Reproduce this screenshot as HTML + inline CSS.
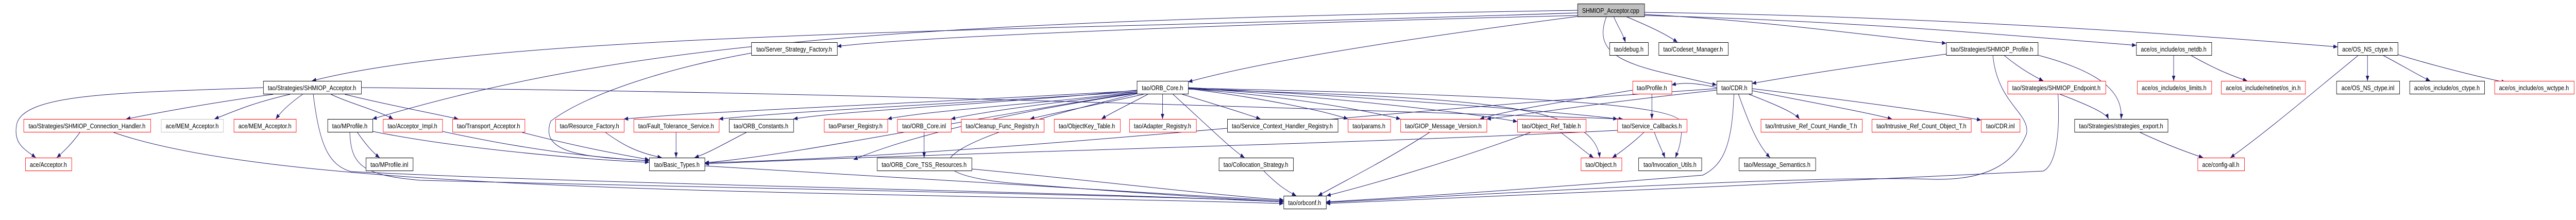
<!DOCTYPE html>
<html><head><meta charset="utf-8">
<style>
html,body{margin:0;padding:0;background:#fff;width:100%;height:100%;overflow:hidden;}
svg{display:block;width:100vw;height:100vh;}
text{font-family:"Liberation Sans",sans-serif;font-size:13px;fill:#000;}
.e{fill:none;stroke:#191970;stroke-width:1;}
</style></head>
<body>
<svg viewBox="0 0 6127 427" preserveAspectRatio="none" xmlns="http://www.w3.org/2000/svg">
<defs>
<marker id="a" viewBox="0 0 10 8" refX="10" refY="4" markerWidth="10" markerHeight="8" markerUnits="userSpaceOnUse" orient="auto">
<path d="M0,0 L10,4 L0,8 z" fill="#191970"/>
</marker>
</defs>
<g id="edges" class="e">
<path d="M3752,25 C2500,60 1200,60 742,157" marker-end="url(#a)"/>
<path d="M3752,30 C3000,45 2200,70 1991,90" marker-end="url(#a)"/>
<path d="M3752,32 C3300,80 3000,120 2826,159" marker-end="url(#a)"/>
<path d="M3838,32 C3850,55 3860,65 3866,82" marker-end="url(#a)"/>
<path d="M3867,32 C3920,50 3960,65 3990,82" marker-end="url(#a)"/>
<path d="M3821,32 C3780,120 3900,130 4083,165" marker-end="url(#a)"/>
<path d="M3911,28 C4200,40 4450,70 4629,84" marker-end="url(#a)"/>
<path d="M3911,30 C4400,40 4800,70 5081,88" marker-end="url(#a)"/>
<path d="M3911,24 C4500,30 5100,60 5560,91" marker-end="url(#a)"/>
<path d="M3752,20 C2200,40 1500,80 886,231" marker-end="url(#a)"/>
<path d="M626,170 C300,180 60,180 40,240 C30,280 60,290 85,306" marker-end="url(#a)"/>
<path d="M650,183 C500,200 400,215 300,231" marker-end="url(#a)"/>
<path d="M690,183 C600,200 560,215 510,231" marker-end="url(#a)"/>
<path d="M720,183 C690,200 670,215 656,231" marker-end="url(#a)"/>
<path d="M787,183 C830,200 900,215 935,231" marker-end="url(#a)"/>
<path d="M820,183 C900,200 1030,220 1090,231" marker-end="url(#a)"/>
<path d="M745,183 C760,280 780,320 835,333 C1500,360 2500,370 3053,392" marker-end="url(#a)"/>
<path d="M859,170 C1500,175 2200,185 3860,231" marker-end="url(#a)"/>
<path d="M190,257 C170,280 150,295 135,306" marker-end="url(#a)"/>
<path d="M270,257 C700,380 2000,370 3053,395" marker-end="url(#a)"/>
<path d="M850,257 C870,280 885,295 903,306" marker-end="url(#a)"/>
<path d="M886,255 C1100,290 1400,310 1544,315" marker-end="url(#a)"/>
<path d="M832,257 C835,320 860,340 1000,350 C2000,370 2800,380 3053,392" marker-end="url(#a)"/>
<path d="M1052,255 C1250,290 1400,305 1544,312" marker-end="url(#a)"/>
<path d="M1242,257 C1400,290 1480,300 1544,310" marker-end="url(#a)"/>
<path d="M1440,257 C1480,280 1510,295 1574,306" marker-end="url(#a)"/>
<path d="M1608,257 L1608,306" marker-end="url(#a)"/>
<path d="M1775,257 C1720,280 1690,295 1652,306" marker-end="url(#a)"/>
<path d="M1787,103 C1600,130 1400,180 1310,235 C1280,300 1400,305 1544,312" marker-end="url(#a)"/>
<path d="M1676,322 C2000,340 2700,370 3053,390" marker-end="url(#a)"/>
<path d="M2704,176 C2200,200 1700,215 1484,231" marker-end="url(#a)"/>
<path d="M2704,178 C2300,200 1900,215 1710,231" marker-end="url(#a)"/>
<path d="M2704,175 C2400,200 2000,215 1887,231" marker-end="url(#a)"/>
<path d="M2704,178 C2500,200 2200,215 2111,231" marker-end="url(#a)"/>
<path d="M2704,180 C2500,200 2350,215 2262,231" marker-end="url(#a)"/>
<path d="M2720,183 C2600,205 2500,220 2450,231" marker-end="url(#a)"/>
<path d="M2730,183 C2680,205 2640,220 2620,231" marker-end="url(#a)"/>
<path d="M2765,183 L2765,231" marker-end="url(#a)"/>
<path d="M2812,183 C2900,205 2960,220 2998,231" marker-end="url(#a)"/>
<path d="M2826,172 C3000,190 3150,215 3206,231" marker-end="url(#a)"/>
<path d="M2826,172 C3100,190 3250,215 3331,231" marker-end="url(#a)"/>
<path d="M2826,171 C3200,190 3500,220 3609,236" marker-end="url(#a)"/>
<path d="M2826,170 C3300,190 3750,220 3847,231" marker-end="url(#a)"/>
<path d="M2826,173 C3500,190 3790,200 3805,306" marker-end="url(#a)"/>
<path d="M2826,171 C3600,185 4000,200 4000,240 C4000,280 3990,295 3985,306" marker-end="url(#a)"/>
<path d="M2790,183 C2880,250 2930,290 2960,306" marker-end="url(#a)"/>
<path d="M2704,181 C2300,230 2100,285 2030,310" marker-end="url(#a)"/>
<path d="M2704,180 C2300,230 1900,300 1676,316" marker-end="url(#a)"/>
<path d="M2704,182 C2300,260 2100,330 2400,355 C2700,375 2900,385 3053,392" marker-end="url(#a)"/>
<path d="M2198,257 L2198,306" marker-end="url(#a)"/>
<path d="M2311,328 C2600,350 2900,380 3053,388" marker-end="url(#a)"/>
<path d="M3005,331 C3040,360 3060,370 3083,380" marker-end="url(#a)"/>
<path d="M3400,257 C3300,310 3200,350 3135,380" marker-end="url(#a)"/>
<path d="M3640,257 C3500,300 3300,350 3155,380" marker-end="url(#a)"/>
<path d="M3712,257 C3750,280 3770,295 3790,306" marker-end="url(#a)"/>
<path d="M3910,257 C3880,280 3855,295 3835,306" marker-end="url(#a)"/>
<path d="M3935,257 C3945,280 3955,295 3960,306" marker-end="url(#a)"/>
<path d="M3847,253 C3200,280 2500,290 1676,318" marker-end="url(#a)"/>
<path d="M3929,183 L3929,231" marker-end="url(#a)"/>
<path d="M3883,175 C3700,200 3580,215 3520,231" marker-end="url(#a)"/>
<path d="M4083,175 C3800,200 3650,220 3536,231" marker-end="url(#a)"/>
<path d="M4083,172 C3200,220 2400,300 1676,316" marker-end="url(#a)"/>
<path d="M4160,183 C4230,205 4270,220 4280,231" marker-end="url(#a)"/>
<path d="M4167,176 C4350,205 4450,220 4500,231" marker-end="url(#a)"/>
<path d="M4167,172 C4450,200 4620,220 4712,233" marker-end="url(#a)"/>
<path d="M4135,183 C4160,240 4180,280 4210,306" marker-end="url(#a)"/>
<path d="M4124,183 C4120,280 4100,320 4050,340 C3600,370 3300,385 3154,392" marker-end="url(#a)"/>
<path d="M4083,170 C4030,160 4000,160 3976,165" marker-end="url(#a)"/>
<path d="M4629,105 C4400,130 4250,150 4167,162" marker-end="url(#a)"/>
<path d="M4766,107 C4800,130 4830,145 4860,157" marker-end="url(#a)"/>
<path d="M4847,107 C5000,140 5050,180 5045,231" marker-end="url(#a)"/>
<path d="M4740,107 C4750,200 4830,220 4820,260 C4790,320 4720,350 4600,348 C4300,340 3700,370 3154,393" marker-end="url(#a)"/>
<path d="M4900,183 C4970,205 5010,220 5015,231" marker-end="url(#a)"/>
<path d="M4895,183 C4900,260 4890,320 4860,332 C4400,350 3500,385 3154,395" marker-end="url(#a)"/>
<path d="M5090,257 C5150,280 5200,295 5240,306" marker-end="url(#a)"/>
<path d="M5170,107 L5170,157" marker-end="url(#a)"/>
<path d="M5210,107 C5260,130 5300,145 5345,157" marker-end="url(#a)"/>
<path d="M5610,107 C5500,180 5400,250 5305,306" marker-end="url(#a)"/>
<path d="M5631,107 L5631,157" marker-end="url(#a)"/>
<path d="M5667,107 C5720,130 5750,145 5780,157" marker-end="url(#a)"/>
<path d="M5703,106 C5800,130 5900,150 5960,160" marker-end="url(#a)"/>
</g>
<g id="nodes" stroke-width="1">
<rect x="3752.5" y="7.5" width="159" height="25" fill="#bfbfbf" stroke="#000"/>
<text x="3831" y="25" text-anchor="middle" textLength="136" lengthAdjust="spacingAndGlyphs">SHMIOP_Acceptor.cpp</text>
<rect x="1787.5" y="82.5" width="204" height="25" fill="#fff" stroke="#000"/>
<text x="1889" y="100" text-anchor="middle" textLength="180" lengthAdjust="spacingAndGlyphs">tao/Server_Strategy_Factory.h</text>
<rect x="3828.5" y="82.5" width="92" height="25" fill="#fff" stroke="#000"/>
<text x="3874" y="100" text-anchor="middle" textLength="70" lengthAdjust="spacingAndGlyphs">tao/debug.h</text>
<rect x="3945.5" y="82.5" width="165" height="25" fill="#fff" stroke="#000"/>
<text x="4027" y="100" text-anchor="middle" textLength="142" lengthAdjust="spacingAndGlyphs">tao/Codeset_Manager.h</text>
<rect x="4629.5" y="82.5" width="218" height="25" fill="#fff" stroke="#000"/>
<text x="4738" y="100" text-anchor="middle" textLength="196" lengthAdjust="spacingAndGlyphs">tao/Strategies/SHMIOP_Profile.h</text>
<rect x="5081.5" y="82.5" width="179" height="25" fill="#fff" stroke="#000"/>
<text x="5170" y="100" text-anchor="middle" textLength="156" lengthAdjust="spacingAndGlyphs">ace/os_include/os_netdb.h</text>
<rect x="5560.5" y="82.5" width="143" height="25" fill="#fff" stroke="#000"/>
<text x="5631" y="100" text-anchor="middle" textLength="120" lengthAdjust="spacingAndGlyphs">ace/OS_NS_ctype.h</text>
<rect x="626.5" y="157.5" width="233" height="25" fill="#fff" stroke="#000"/>
<text x="742" y="175" text-anchor="middle" textLength="210" lengthAdjust="spacingAndGlyphs">tao/Strategies/SHMIOP_Acceptor.h</text>
<rect x="2704.5" y="157.5" width="122" height="25" fill="#fff" stroke="#000"/>
<text x="2765" y="175" text-anchor="middle" textLength="98" lengthAdjust="spacingAndGlyphs">tao/ORB_Core.h</text>
<rect x="3883.5" y="157.5" width="93" height="25" fill="#fff" stroke="#f00"/>
<text x="3929" y="175" text-anchor="middle" textLength="72" lengthAdjust="spacingAndGlyphs">tao/Profile.h</text>
<rect x="4083.5" y="157.5" width="84" height="25" fill="#fff" stroke="#000"/>
<text x="4125" y="175" text-anchor="middle" textLength="62" lengthAdjust="spacingAndGlyphs">tao/CDR.h</text>
<rect x="4775.5" y="157.5" width="233" height="25" fill="#fff" stroke="#f00"/>
<text x="4891" y="175" text-anchor="middle" textLength="210" lengthAdjust="spacingAndGlyphs">tao/Strategies/SHMIOP_Endpoint.h</text>
<rect x="5083.5" y="157.5" width="177" height="25" fill="#fff" stroke="#f00"/>
<text x="5171" y="175" text-anchor="middle" textLength="154" lengthAdjust="spacingAndGlyphs">ace/os_include/os_limits.h</text>
<rect x="5283.5" y="157.5" width="200" height="25" fill="#fff" stroke="#f00"/>
<text x="5383" y="175" text-anchor="middle" textLength="178" lengthAdjust="spacingAndGlyphs">ace/os_include/netinet/os_in.h</text>
<rect x="5557.5" y="157.5" width="150" height="25" fill="#fff" stroke="#000"/>
<text x="5632" y="175" text-anchor="middle" textLength="126" lengthAdjust="spacingAndGlyphs">ace/OS_NS_ctype.inl</text>
<rect x="5731.5" y="157.5" width="178" height="25" fill="#fff" stroke="#000"/>
<text x="5820" y="175" text-anchor="middle" textLength="156" lengthAdjust="spacingAndGlyphs">ace/os_include/os_ctype.h</text>
<rect x="5933.5" y="157.5" width="189" height="25" fill="#fff" stroke="#f00"/>
<text x="6027" y="175" text-anchor="middle" textLength="166" lengthAdjust="spacingAndGlyphs">ace/os_include/os_wctype.h</text>
<rect x="56.5" y="231.5" width="302" height="25" fill="#fff" stroke="#f00"/>
<text x="207" y="249" text-anchor="middle" textLength="278" lengthAdjust="spacingAndGlyphs">tao/Strategies/SHMIOP_Connection_Handler.h</text>
<rect x="383.5" y="231.5" width="148" height="25" fill="#fff" stroke="#bfbfbf"/>
<text x="457" y="249" text-anchor="middle" textLength="126" lengthAdjust="spacingAndGlyphs">ace/MEM_Acceptor.h</text>
<rect x="556.5" y="231.5" width="148" height="25" fill="#fff" stroke="#f00"/>
<text x="630" y="249" text-anchor="middle" textLength="126" lengthAdjust="spacingAndGlyphs">ace/MEM_Acceptor.h</text>
<rect x="779.5" y="231.5" width="107" height="25" fill="#fff" stroke="#000"/>
<text x="832" y="249" text-anchor="middle" textLength="84" lengthAdjust="spacingAndGlyphs">tao/MProfile.h</text>
<rect x="911.5" y="231.5" width="141" height="25" fill="#fff" stroke="#f00"/>
<text x="981" y="249" text-anchor="middle" textLength="118" lengthAdjust="spacingAndGlyphs">tao/Acceptor_Impl.h</text>
<rect x="1076.5" y="231.5" width="172" height="25" fill="#fff" stroke="#f00"/>
<text x="1162" y="249" text-anchor="middle" textLength="150" lengthAdjust="spacingAndGlyphs">tao/Transport_Acceptor.h</text>
<rect x="1321.5" y="231.5" width="163" height="25" fill="#fff" stroke="#f00"/>
<text x="1402" y="249" text-anchor="middle" textLength="141" lengthAdjust="spacingAndGlyphs">tao/Resource_Factory.h</text>
<rect x="1507.5" y="231.5" width="203" height="25" fill="#fff" stroke="#f00"/>
<text x="1608" y="249" text-anchor="middle" textLength="180" lengthAdjust="spacingAndGlyphs">tao/Fault_Tolerance_Service.h</text>
<rect x="1734.5" y="231.5" width="153" height="25" fill="#fff" stroke="#000"/>
<text x="1810" y="249" text-anchor="middle" textLength="130" lengthAdjust="spacingAndGlyphs">tao/ORB_Constants.h</text>
<rect x="1960.5" y="231.5" width="151" height="25" fill="#fff" stroke="#f00"/>
<text x="2035" y="249" text-anchor="middle" textLength="128" lengthAdjust="spacingAndGlyphs">tao/Parser_Registry.h</text>
<rect x="2134.5" y="231.5" width="128" height="25" fill="#fff" stroke="#f00"/>
<text x="2198" y="249" text-anchor="middle" textLength="104" lengthAdjust="spacingAndGlyphs">tao/ORB_Core.inl</text>
<rect x="2286.5" y="231.5" width="197" height="25" fill="#fff" stroke="#f00"/>
<text x="2384" y="249" text-anchor="middle" textLength="174" lengthAdjust="spacingAndGlyphs">tao/Cleanup_Func_Registry.h</text>
<rect x="2507.5" y="231.5" width="157" height="25" fill="#fff" stroke="#f00"/>
<text x="2585" y="249" text-anchor="middle" textLength="134" lengthAdjust="spacingAndGlyphs">tao/ObjectKey_Table.h</text>
<rect x="2686.5" y="231.5" width="159" height="25" fill="#fff" stroke="#f00"/>
<text x="2765" y="249" text-anchor="middle" textLength="136" lengthAdjust="spacingAndGlyphs">tao/Adapter_Registry.h</text>
<rect x="2919.5" y="231.5" width="263" height="25" fill="#fff" stroke="#000"/>
<text x="3050" y="249" text-anchor="middle" textLength="240" lengthAdjust="spacingAndGlyphs">tao/Service_Context_Handler_Registry.h</text>
<rect x="3206.5" y="231.5" width="101" height="25" fill="#fff" stroke="#f00"/>
<text x="3256" y="249" text-anchor="middle" textLength="78" lengthAdjust="spacingAndGlyphs">tao/params.h</text>
<rect x="3331.5" y="231.5" width="205" height="25" fill="#fff" stroke="#f00"/>
<text x="3433" y="249" text-anchor="middle" textLength="182" lengthAdjust="spacingAndGlyphs">tao/GIOP_Message_Version.h</text>
<rect x="3609.5" y="231.5" width="163" height="25" fill="#fff" stroke="#f00"/>
<text x="3690" y="249" text-anchor="middle" textLength="140" lengthAdjust="spacingAndGlyphs">tao/Object_Ref_Table.h</text>
<rect x="3847.5" y="231.5" width="165" height="25" fill="#fff" stroke="#f00"/>
<text x="3929" y="249" text-anchor="middle" textLength="142" lengthAdjust="spacingAndGlyphs">tao/Service_Callbacks.h</text>
<rect x="4188.5" y="231.5" width="241" height="25" fill="#fff" stroke="#f00"/>
<text x="4308" y="249" text-anchor="middle" textLength="218" lengthAdjust="spacingAndGlyphs">tao/Intrusive_Ref_Count_Handle_T.h</text>
<rect x="4452.5" y="231.5" width="236" height="25" fill="#fff" stroke="#f00"/>
<text x="4570" y="249" text-anchor="middle" textLength="214" lengthAdjust="spacingAndGlyphs">tao/Intrusive_Ref_Count_Object_T.h</text>
<rect x="4712.5" y="231.5" width="92" height="25" fill="#fff" stroke="#f00"/>
<text x="4758" y="249" text-anchor="middle" textLength="68" lengthAdjust="spacingAndGlyphs">tao/CDR.inl</text>
<rect x="4934.5" y="231.5" width="222" height="25" fill="#fff" stroke="#000"/>
<text x="5045" y="249" text-anchor="middle" textLength="200" lengthAdjust="spacingAndGlyphs">tao/Strategies/strategies_export.h</text>
<rect x="60.5" y="306.5" width="110" height="25" fill="#fff" stroke="#f00"/>
<text x="115" y="324" text-anchor="middle" textLength="88" lengthAdjust="spacingAndGlyphs">ace/Acceptor.h</text>
<rect x="870.5" y="306.5" width="112" height="25" fill="#fff" stroke="#000"/>
<text x="926" y="324" text-anchor="middle" textLength="90" lengthAdjust="spacingAndGlyphs">tao/MProfile.inl</text>
<rect x="1544.5" y="306.5" width="132" height="25" fill="#fff" stroke="#000"/>
<text x="1610" y="324" text-anchor="middle" textLength="108" lengthAdjust="spacingAndGlyphs">tao/Basic_Types.h</text>
<rect x="2086.5" y="306.5" width="225" height="25" fill="#fff" stroke="#000"/>
<text x="2198" y="324" text-anchor="middle" textLength="202" lengthAdjust="spacingAndGlyphs">tao/ORB_Core_TSS_Resources.h</text>
<rect x="2899.5" y="306.5" width="177" height="25" fill="#fff" stroke="#000"/>
<text x="2987" y="324" text-anchor="middle" textLength="154" lengthAdjust="spacingAndGlyphs">tao/Collocation_Strategy.h</text>
<rect x="3760.5" y="306.5" width="97" height="25" fill="#fff" stroke="#f00"/>
<text x="3808" y="324" text-anchor="middle" textLength="74" lengthAdjust="spacingAndGlyphs">tao/Object.h</text>
<rect x="3897.5" y="306.5" width="150" height="25" fill="#fff" stroke="#000"/>
<text x="3972" y="324" text-anchor="middle" textLength="126" lengthAdjust="spacingAndGlyphs">tao/Invocation_Utils.h</text>
<rect x="4136.5" y="306.5" width="182" height="25" fill="#fff" stroke="#000"/>
<text x="4227" y="324" text-anchor="middle" textLength="158" lengthAdjust="spacingAndGlyphs">tao/Message_Semantics.h</text>
<rect x="5227.5" y="306.5" width="111" height="25" fill="#fff" stroke="#f00"/>
<text x="5282" y="324" text-anchor="middle" textLength="88" lengthAdjust="spacingAndGlyphs">ace/config-all.h</text>
<rect x="3053.5" y="380.5" width="101" height="25" fill="#fff" stroke="#000"/>
<text x="3103" y="398" text-anchor="middle" textLength="78" lengthAdjust="spacingAndGlyphs">tao/orbconf.h</text>
</g>
</svg>
</body></html>
